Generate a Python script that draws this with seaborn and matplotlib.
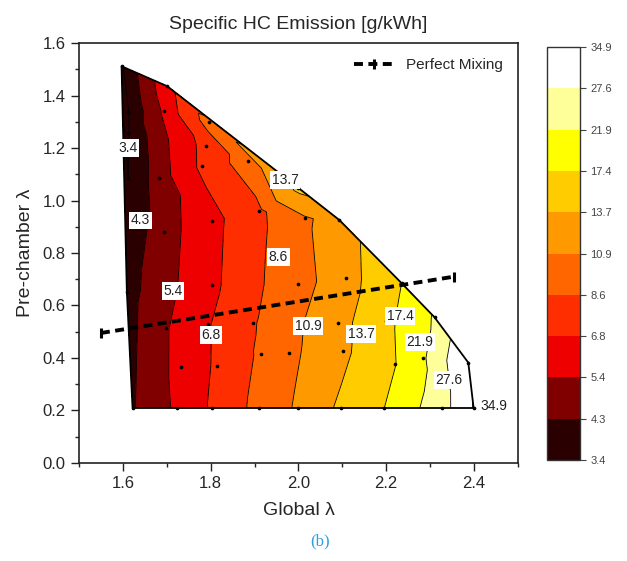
import numpy as np
import matplotlib
matplotlib.use('Agg')
import matplotlib.pyplot as plt
import matplotlib.tri as mtri
import matplotlib.colors as mcolors
import matplotlib.cm as cm
from matplotlib.collections import LineCollection
from matplotlib.ticker import MultipleLocator
import seaborn as sns

# measured points: global lambda, pre-chamber lambda, specific HC [g/kWh]
global_lam = [1.597, 1.701, 1.612, 1.694, 1.796, 1.612, 1.789, 1.884, 1.781, 1.683,
              1.612, 2.000, 1.910, 2.014, 2.093, 1.803, 1.694, 2.109, 1.998, 1.802,
              2.235, 1.609, 2.310, 2.200, 2.091, 1.896, 1.795, 1.698, 2.101, 1.979,
              1.914, 2.283, 2.387, 2.219, 1.814, 1.732,
              1.622, 1.723, 1.802, 1.911, 2.000, 2.096, 2.194, 2.327, 2.399]
pc_lam = [1.512, 1.436, 1.338, 1.342, 1.299, 1.258, 1.209, 1.152, 1.131, 1.086,
          1.085, 1.048, 0.961, 0.932, 0.926, 0.921, 0.881, 0.706, 0.682, 0.678,
          0.685, 0.653, 0.555, 0.542, 0.535, 0.535, 0.528, 0.513, 0.428, 0.420,
          0.415, 0.401, 0.382, 0.377, 0.371, 0.367,
          0.210, 0.210, 0.210, 0.210, 0.210, 0.210, 0.210, 0.210, 0.210]
hc = [3.3, 6.2, 3.35, 5.6, 9.4, 3.35, 7.3, 9.6, 7.1, 4.8,
      3.4, 14.4, 8.2, 10.6, 11.8, 6.3, 4.9, 12.3, 10.0, 6.4,
      17.4, 3.9, 22.3, 16.3, 12.6, 8.4, 6.7, 5.3, 13.0, 10.3,
      8.9, 21.0, 33.5, 17.2, 7.0, 5.8,
      4.2, 5.6, 6.95, 9.2, 11.25, 14.2, 17.3, 24.7, 35.2]

levels = [3.4, 4.3, 5.4, 6.8, 8.6, 10.9, 13.7, 17.4, 21.9, 27.6, 34.9]
band_colors = ['#2b0000', '#800000', '#ee0000', '#ff2e00', '#ff6600',
               '#ff9900', '#ffcc00', '#ffff00', '#ffff99', '#ffffff']

# perfect mixing line
mix_x = [1.55, 2.355]
mix_y = [0.495, 0.71]

# where the contour values are written (label, x, y)
label_pos = [(3.4, 1.612, 1.20), (4.3, 1.640, 0.925), (5.4, 1.714, 0.655),
             (6.8, 1.801, 0.488), (8.6, 1.954, 0.785), (10.9, 2.022, 0.522),
             (13.7, 2.143, 0.491), (13.7, 1.970, 1.078), (17.4, 2.232, 0.560),
             (21.9, 2.277, 0.461), (27.6, 2.343, 0.316), (34.9, 2.445, 0.215)]

sns.set_theme(style='ticks')
plt.rcParams['font.family'] = ['Liberation Sans', 'DejaVu Sans']
plt.rcParams['xtick.direction'] = 'out'
plt.rcParams['ytick.direction'] = 'out'

cmap = mcolors.ListedColormap(band_colors)
cmap.set_under(band_colors[0])
cmap.set_over(band_colors[-1])
norm = mcolors.BoundaryNorm(levels, cmap.N)

fig = plt.figure(figsize=(6.27, 5.61), dpi=100)
ax = fig.add_axes([0.126, 0.175, 0.700, 0.748])
cax = fig.add_axes([0.872, 0.180, 0.053, 0.736])

tri = mtri.Triangulation(global_lam, pc_lam)
ax.tricontourf(tri, hc, levels=levels, cmap=cmap, norm=norm, extend='both')
ax.tricontour(tri, hc, levels=levels, colors='black', linewidths=0.6)

# outline of the measured region
segs = []
for t in range(len(tri.triangles)):
    for j in range(3):
        if tri.neighbors[t, j] == -1:
            a = tri.triangles[t, j]
            b = tri.triangles[t, (j + 1) % 3]
            segs.append([(global_lam[a], pc_lam[a]), (global_lam[b], pc_lam[b])])
ax.add_collection(LineCollection(segs, colors='black', linewidths=1.3))

sns.scatterplot(x=global_lam, y=pc_lam, color='black', s=7, linewidth=0, ax=ax, zorder=5)

for lev, lx, ly in label_pos:
    ax.text(lx, ly, f'{lev:.1f}', fontsize=10, ha='center', va='center', color='#222222',
            bbox=dict(facecolor='white', edgecolor='none', pad=1.2), zorder=6)

ax.plot(mix_x, mix_y, color='black', linestyle='--', dashes=(2.3, 1.4), linewidth=2.8,
        marker='|', markersize=7, markeredgewidth=2.2, label='Perfect Mixing', zorder=7)
ax.legend(loc='upper right', frameon=False, fontsize=11, handlelength=2.6,
          borderaxespad=0.6)

ax.set_xlim(1.5, 2.5)
ax.set_ylim(0.0, 1.6)
ax.xaxis.set_major_locator(MultipleLocator(0.2))
ax.xaxis.set_minor_locator(MultipleLocator(0.1))
ax.yaxis.set_major_locator(MultipleLocator(0.2))
ax.yaxis.set_minor_locator(MultipleLocator(0.1))
ax.set_xticks([1.6, 1.8, 2.0, 2.2, 2.4])
ax.tick_params(which='major', length=6, width=1, labelsize=12, color='#222222')
ax.tick_params(which='minor', length=3, width=1, color='#222222')
for s in ax.spines.values():
    s.set_linewidth(1.2)
    s.set_color('#222222')
ax.set_title('Specific HC Emission [g/kWh]', fontsize=14, pad=10)
ax.set_xlabel('Global λ', fontsize=14, labelpad=8)
ax.set_ylabel('Pre-chamber λ', fontsize=14, labelpad=6)

cb = fig.colorbar(cm.ScalarMappable(norm=norm, cmap=cmap), cax=cax, ticks=levels)
cb.ax.set_yticklabels([f'{v:.1f}' for v in levels])
cb.ax.tick_params(labelsize=8, length=4, width=0.8, colors='#444444')
cb.outline.set_linewidth(1.0)
cb.outline.set_edgecolor('#333333')
cb.ax.minorticks_off()

fig.text(0.51, 0.028, '(b)', fontsize=12, color='#2f9fe0', ha='center',
         family=['Liberation Serif', 'DejaVu Serif'])

fig.savefig('out.png', dpi=100)
